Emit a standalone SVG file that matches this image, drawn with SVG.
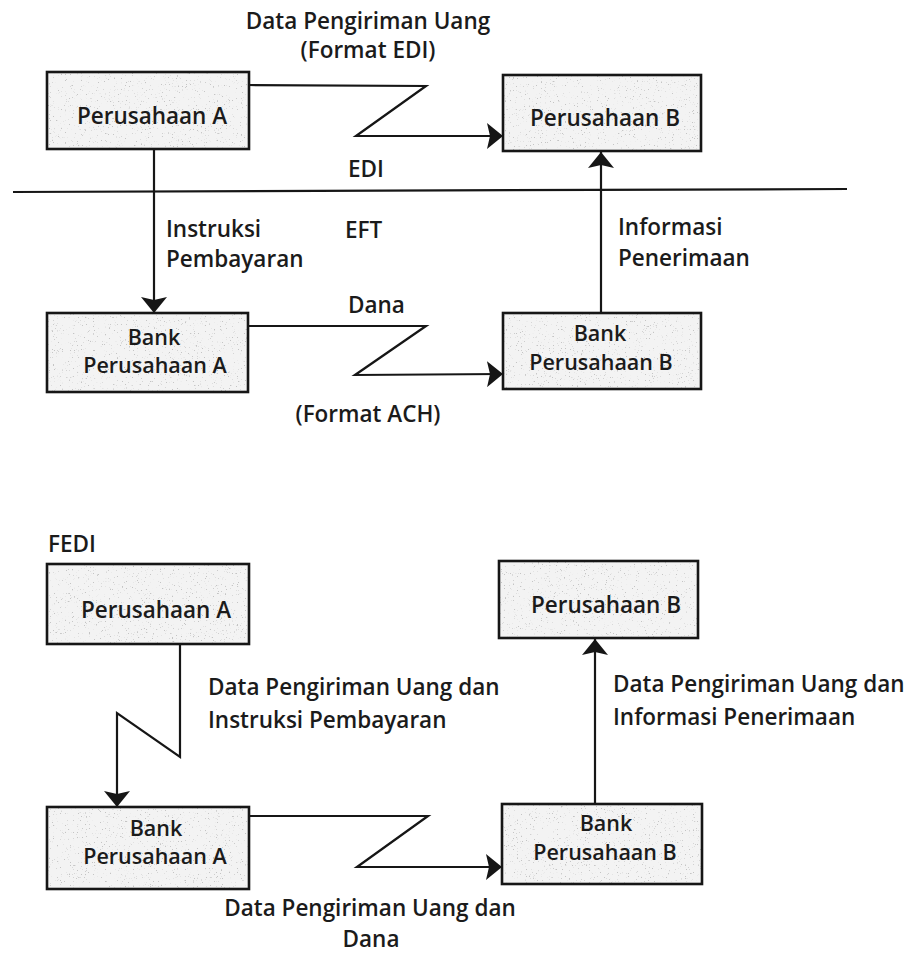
<svg xmlns="http://www.w3.org/2000/svg" width="920" height="955" viewBox="0 0 920 955">
  <style>
    text { font-family: "Open Sans", "Liberation Sans", "DejaVu Sans", sans-serif; font-weight: 600; font-size: 22.5px; fill: #1b1b1b; }
    .c { text-anchor: middle; }
    .two { font-size: 21.5px; }
    .box { fill: none; stroke: #161616; stroke-width: 2.6; }
    .paper { fill: #f3f3f3; filter: url(#grain); }
    .wire { fill: none; stroke: #161616; stroke-width: 2.2; stroke-linejoin: miter; }
    .arrow { marker-end: url(#head); }
  </style>
  <defs>
    <!-- stippled fill used inside every box -->
    <filter id="grain" x="0" y="0" width="100%" height="100%">
      <feTurbulence type="fractalNoise" baseFrequency="0.75" numOctaves="2" seed="7" result="noise"/>
      <feColorMatrix in="noise" type="matrix" values="0 0 0 0 0.55  0 0 0 0 0.55  0 0 0 0 0.55  11 0 0 0 -7.4" result="dots"/>
      <feComposite in="dots" in2="SourceGraphic" operator="in" result="speckle"/>
      <feMerge>
        <feMergeNode in="SourceGraphic"/>
        <feMergeNode in="speckle"/>
      </feMerge>
    </filter>
    <marker id="head" viewBox="0 -13 16 26" refX="16" refY="0" markerWidth="16" markerHeight="26" markerUnits="userSpaceOnUse" orient="auto">
      <path d="M0,-13 L16,0 L0,13 L3,0 Z" fill="#161616"/>
    </marker>
  </defs>

  <!-- EDI / EFT section -->
  <text class="c" x="368" y="29">Data Pengiriman Uang</text>
  <text class="c" x="368" y="58">(Format EDI)</text>
  <text class="c" x="366" y="177">EDI</text>
  <text x="345" y="238">EFT</text>

  <g id="perusahaan-a-edi">
    <rect class="paper" x="47" y="72" width="202" height="77"/>
    <rect class="box" x="47" y="72" width="202" height="77"/>
    <text class="c" x="152" y="124">Perusahaan A</text>
  </g>
  <g id="perusahaan-b-edi">
    <rect class="paper" x="503" y="75" width="198" height="76"/>
    <rect class="box" x="503" y="75" width="198" height="76"/>
    <text class="c" x="605" y="126">Perusahaan B</text>
  </g>
  <g id="bank-a-eft">
    <rect class="paper" x="47" y="313" width="201" height="79"/>
    <rect class="box" x="47" y="313" width="201" height="79"/>
    <text class="c two" x="154" y="345">Bank</text>
    <text class="c two" x="155" y="373">Perusahaan A</text>
  </g>
  <g id="bank-b-eft">
    <rect class="paper" x="503" y="313" width="198" height="76"/>
    <rect class="box" x="503" y="313" width="198" height="76"/>
    <text class="c two" x="600" y="341">Bank</text>
    <text class="c two" x="601" y="370">Perusahaan B</text>
  </g>

  <!-- FEDI section -->
  <text x="48" y="552">FEDI</text>

  <g id="perusahaan-a-fedi">
    <rect class="paper" x="47" y="564" width="202" height="80"/>
    <rect class="box" x="47" y="564" width="202" height="80"/>
    <text class="c" x="156" y="618">Perusahaan A</text>
  </g>
  <g id="perusahaan-b-fedi">
    <rect class="paper" x="499" y="561" width="199" height="77"/>
    <rect class="box" x="499" y="561" width="199" height="77"/>
    <text class="c" x="606" y="613">Perusahaan B</text>
  </g>
  <g id="bank-a-fedi">
    <rect class="paper" x="47" y="807" width="202" height="82"/>
    <rect class="box" x="47" y="807" width="202" height="82"/>
    <text class="c two" x="156" y="836">Bank</text>
    <text class="c two" x="155" y="864">Perusahaan A</text>
  </g>
  <g id="bank-b-fedi">
    <rect class="paper" x="502" y="804" width="200" height="80"/>
    <rect class="box" x="502" y="804" width="200" height="80"/>
    <text class="c two" x="606" y="831">Bank</text>
    <text class="c two" x="605" y="860">Perusahaan B</text>
  </g>

  <g id="connectors">
    <!-- EDI / EFT divider -->
    <path class="wire" d="M13,192 L847,189"/>
    <!-- remittance data, EDI -->
    <path class="wire arrow" d="M249,85 L426,86 L356,136 L503,136"/>
    <!-- payment instruction -->
    <path class="wire arrow" d="M154,149 L154,313"/>
    <!-- funds transfer, ACH -->
    <path class="wire arrow" d="M248,326 L426,326 L355,375 L503,374"/>
    <!-- receipt information -->
    <path class="wire arrow" d="M601,313 L601,152"/>
    <!-- FEDI: company A to its bank -->
    <path class="wire arrow" d="M180,644 L180,757 L117,713 L117,807"/>
    <!-- FEDI: bank to bank -->
    <path class="wire arrow" d="M249,816 L428,816 L357,867 L502,867"/>
    <!-- FEDI: bank B to company B -->
    <path class="wire arrow" d="M595,804 L595,639"/>
  </g>

  <!-- connector labels -->
  <text x="166" y="237">Instruksi</text>
  <text x="166" y="267">Pembayaran</text>
  <text x="348" y="313">Dana</text>
  <text class="c" x="368" y="422">(Format ACH)</text>
  <text x="618" y="235">Informasi</text>
  <text x="618" y="266">Penerimaan</text>

  <text x="208" y="695">Data Pengiriman Uang dan</text>
  <text x="208" y="728">Instruksi Pembayaran</text>
  <text x="613" y="692">Data Pengiriman Uang dan</text>
  <text x="613" y="725">Informasi Penerimaan</text>
  <text class="c" x="370" y="916">Data Pengiriman Uang dan</text>
  <text class="c" x="371" y="947">Dana</text>
</svg>
